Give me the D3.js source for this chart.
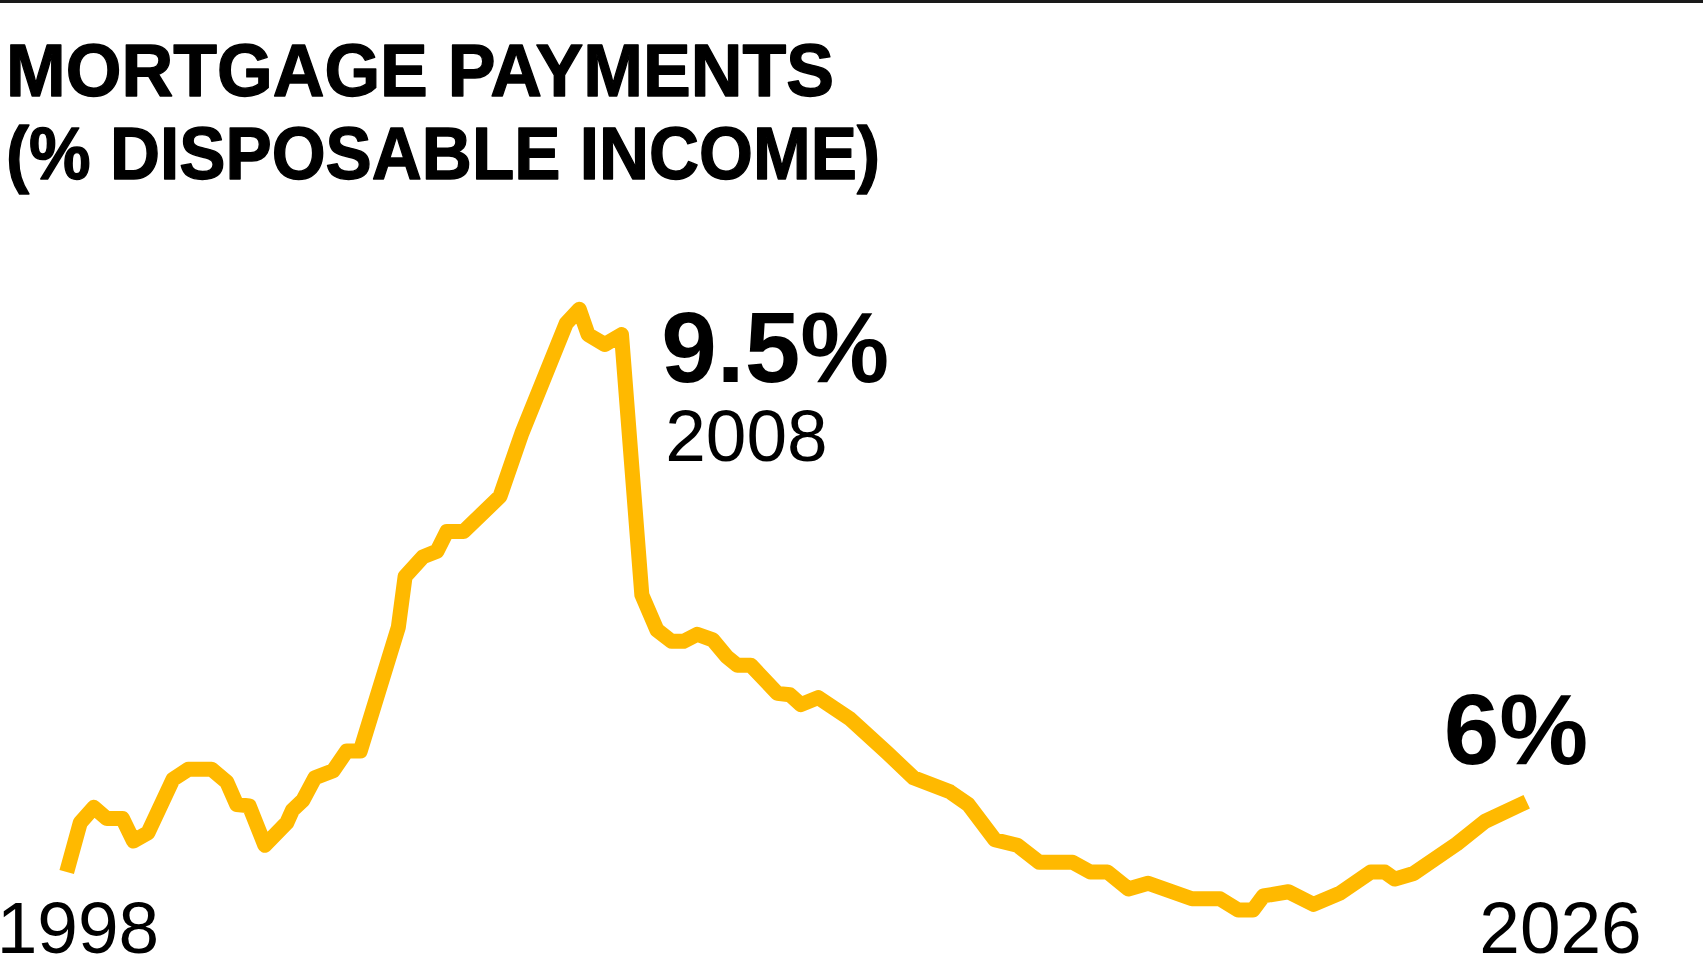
<!DOCTYPE html>
<html>
<head>
<meta charset="utf-8">
<script src="https://cdn.jsdelivr.net/npm/d3@7"></script>
<style>
  html, body { margin: 0; padding: 0; background: #fff; }
  svg { display: block; }
  text { font-family: "Liberation Sans", Arial, Helvetica, sans-serif; fill: #000; }
</style>
</head>
<body>
<script>
// mortgage payments as % of disposable income
const years = [
  1998.00, 1998.26, 1998.52, 1998.77, 1999.07, 1999.28, 1999.56, 2000.04,
  2000.33, 2000.78, 2001.07, 2001.26, 2001.50, 2001.80, 2002.22, 2002.33,
  2002.53, 2002.76, 2003.11, 2003.37, 2003.63, 2004.36, 2004.49, 2004.83,
  2005.10, 2005.29, 2005.61, 2006.31, 2006.73, 2007.58, 2007.83, 2008.00,
  2008.32, 2008.64, 2009.03, 2009.32, 2009.60, 2009.83, 2010.09, 2010.39,
  2010.66, 2010.86, 2011.12, 2011.63, 2011.87, 2012.08, 2012.41, 2013.02,
  2013.73, 2014.24, 2014.94, 2015.29, 2015.80, 2016.23, 2016.65, 2017.29,
  2017.63, 2017.96, 2018.36, 2018.74, 2019.58, 2020.12, 2020.47, 2020.75,
  2020.95, 2021.43, 2021.91, 2022.42, 2023.01, 2023.28, 2023.47, 2023.83,
  2024.66, 2025.20, 2026.00
];
const values = [
  5.50, 5.85, 5.96, 5.88, 5.88, 5.72, 5.78, 6.16,
  6.23, 6.23, 6.14, 5.98, 5.97, 5.69, 5.85, 5.94,
  6.01, 6.17, 6.22, 6.36, 6.36, 7.24, 7.60, 7.74,
  7.78, 7.92, 7.92, 8.17, 8.62, 9.40, 9.50, 9.32,
  9.25, 9.32, 7.47, 7.22, 7.14, 7.14, 7.19, 7.15,
  7.03, 6.97, 6.97, 6.77, 6.76, 6.69, 6.74, 6.59,
  6.35, 6.17, 6.07, 5.98, 5.73, 5.69, 5.57, 5.57,
  5.50, 5.50, 5.38, 5.42, 5.31, 5.31, 5.23, 5.23,
  5.33, 5.36, 5.27, 5.35, 5.50, 5.50, 5.45, 5.49,
  5.70, 5.86, 6.00
];

const titleLines = ["MORTGAGE PAYMENTS", "(% DISPOSABLE INCOME)"];
const firstYearLabel = "1998";
const lastYearLabel = "2026";
const peakValueLabel = "9.5%";
const peakYearLabel = "2008";
const lastValueLabel = "6%";

const w = 1703, h = 977;
const svg = d3.select("body").append("svg")
  .attr("width", w)
  .attr("height", h);

// thin rule across the top
svg.append("rect")
  .attr("x", 0).attr("y", 0)
  .attr("width", w).attr("height", 3)
  .attr("fill", "#1a1a1a");

// title: heavy, tightly set
const titleWidths = [828, 874];
svg.selectAll(".title")
  .data(titleLines)
  .enter().append("text")
  .attr("class", "title")
  .attr("x", 6)
  .attr("y", (d, i) => 96 + i * 83)
  .attr("font-size", 75)
  .attr("font-weight", 700)
  .attr("stroke", "#000")
  .attr("stroke-width", 1.4)
  .attr("stroke-linejoin", "round")
  .attr("textLength", (d, i) => titleWidths[i])
  .attr("lengthAdjust", "spacingAndGlyphs")
  .text(d => d);

const data = years.map((yr, i) => ({ year: yr, value: values[i] }));

// scales
const x = d3.scaleLinear()
  .domain([1998, 2026])
  .range([66.7, 1526.7]);

const y = d3.scaleLinear()
  .domain([6, 9.5])
  .range([801.7, 309.3]);

const line = d3.line()
  .x(d => x(d.year))
  .y(d => y(d.value));

svg.append("path")
  .datum(data)
  .attr("fill", "none")
  .attr("stroke", "#ffb900")
  .attr("stroke-width", 15)
  .attr("stroke-linejoin", "round")
  .attr("stroke-linecap", "butt")
  .attr("d", line);

// peak annotation
const peak = data[d3.maxIndex(data, d => d.value)];
svg.append("text")
  .attr("x", x(peak.year) + 82)
  .attr("y", y(peak.value) + 73)
  .attr("font-size", 100)
  .attr("font-weight", 700)
  .text(peakValueLabel);

svg.append("text")
  .attr("x", x(peak.year) + 86)
  .attr("y", y(peak.value) + 152)
  .attr("font-size", 73)
  .text(peakYearLabel);

// latest value
const last = data[data.length - 1];
svg.append("text")
  .attr("x", x(last.year) - 83)
  .attr("y", y(last.value) - 38)
  .attr("font-size", 100)
  .attr("font-weight", 700)
  .text(lastValueLabel);

// start and end years along the bottom
svg.append("text")
  .attr("x", x(1998) - 70)
  .attr("y", 953)
  .attr("font-size", 73)
  .text(firstYearLabel);

svg.append("text")
  .attr("x", x(2026) + 115)
  .attr("y", 953)
  .attr("font-size", 73)
  .attr("text-anchor", "end")
  .text(lastYearLabel);
</script>
</body>
</html>
